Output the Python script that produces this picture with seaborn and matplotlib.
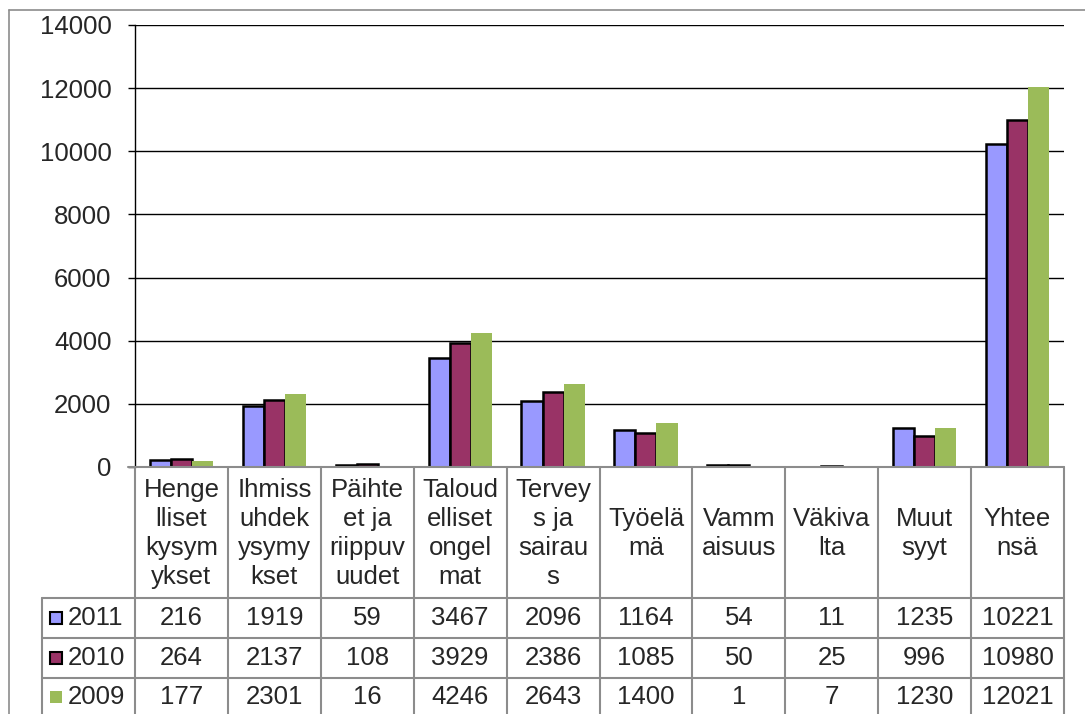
"""Yhteydenotot aiheittain 2009-2011, pylväät ja datataulukko"""

import numpy as np
import pandas as pd
import matplotlib
matplotlib.use('Agg')
import matplotlib.pyplot as plt
import seaborn as sns

# Data
categories = ['Hengelliset kysymykset', 'Ihmissuhdekysymykset', 'Päihteet ja riippuvuudet',
              'Taloudelliset ongelmat', 'Terveys ja sairaus', 'Työelämä', 'Vammaisuus',
              'Väkivalta', 'Muut syyt', 'Yhteensä']
header_labels = ['Henge\nlliset\nkysym\nykset', 'Ihmiss\nuhdek\nysymy\nkset', 'Päihte\net ja\nriippuv\nuudet',
                 'Taloud\nelliset\nongel\nmat', 'Tervey\ns ja\nsairau\ns', 'Työelä\nmä', 'Vamm\naisuus',
                 'Väkiva\nlta', 'Muut\nsyyt', 'Yhtee\nnsä']
years = ['2011', '2010', '2009']
values_2011 = [216, 1919, 59, 3467, 2096, 1164, 54, 11, 1235, 10221]
values_2010 = [264, 2137, 108, 3929, 2386, 1085, 50, 25, 996, 10980]
values_2009 = [177, 2301, 16, 4246, 2643, 1400, 1, 7, 1230, 12021]
y_ticks = [0, 2000, 4000, 6000, 8000, 10000, 12000, 14000]

colors = {'2011': '#9999FF', '2010': '#993366', '2009': '#9BBB59'}

series = {'2011': values_2011, '2010': values_2010, '2009': values_2009}
df = pd.DataFrame([
    {'kategoria': c, 'vuosi': y, 'arvo': v}
    for y in years for c, v in zip(categories, series[y])
])

sns.set_style('white')
plt.rcParams['font.family'] = ['Liberation Sans', 'DejaVu Sans']
FS = 18.5

W, H = 1085, 714
fig = plt.figure(figsize=(W / 100, H / 100), dpi=100)

# plot area in pixels
left, right, top, bottom = 135, 1064, 25, 467
ax = fig.add_axes([left / W, (H - bottom) / H, (right - left) / W, (bottom - top) / H])

sns.barplot(data=df, x='kategoria', y='arvo', hue='vuosi', hue_order=years,
            order=categories, palette=colors, saturation=1, width=0.68,
            legend=False, ax=ax, zorder=3)

for cont, year in zip(ax.containers, years):
    for bar in cont:
        if year == '2009':
            bar.set_edgecolor('none')
        else:
            bar.set_edgecolor('black')
            bar.set_linewidth(1.8)

ax.set_xlim(-0.5, len(categories) - 0.5)
ax.set_ylim(0, 14000)
ax.set_yticks(y_ticks)
ax.set_yticklabels([str(t) for t in y_ticks], fontsize=FS)
ax.set_xticks([])
ax.set_xlabel('')
ax.set_ylabel('')
ax.yaxis.grid(True, color='black', linewidth=1)
ax.set_axisbelow(True)
ax.tick_params(axis='y', which='major', left=True, length=5, width=1, color='black', pad=12)
for side in ['top', 'right', 'bottom']:
    ax.spines[side].set_visible(False)
ax.spines['left'].set_color('black')
ax.spines['left'].set_linewidth(1)

# table overlay in pixel coordinates
tab = fig.add_axes([0, 0, 1, 1], zorder=5)
tab.set_xlim(0, W)
tab.set_ylim(H, 0)
tab.axis('off')
tab.patch.set_alpha(0)

grid_col = '#8c8c8c'
col_edges = np.linspace(left, right, len(categories) + 1)
row_edges = [bottom, 598, 638, 678, H + 5]
legend_left = 42

# chart outer border
tab.plot([9, 9], [10, H], color='#8c8c8c', lw=1.2)
tab.plot([9, W], [10, 10], color='#8c8c8c', lw=1.2)

# zero line / header top
tab.plot([left - 7, right], [bottom, bottom], color=grid_col, lw=1.5)
for x in col_edges:
    tab.plot([x, x], [bottom, H], color=grid_col, lw=1.5)
tab.plot([legend_left, legend_left], [row_edges[1], H], color=grid_col, lw=1.5)
for y in row_edges[1:4]:
    tab.plot([legend_left, right], [y, y], color=grid_col, lw=1.5)

centers = (col_edges[:-1] + col_edges[1:]) / 2
for cx, lab in zip(centers, header_labels):
    tab.text(cx, (row_edges[0] + row_edges[1]) / 2 + 1, lab, ha='center', va='center',
             fontsize=FS, linespacing=1.28)

for r, year in enumerate(years):
    cy = (row_edges[r + 1] + row_edges[r + 2]) / 2 if r < 2 else 697
    for cx, v in zip(centers, series[year]):
        tab.text(cx, cy, str(v), ha='center', va='center', fontsize=FS)
    # legend key
    ec = 'none' if year == '2009' else 'black'
    tab.add_patch(plt.Rectangle((50, cy - 6), 12, 12, facecolor=colors[year],
                                edgecolor=ec, lw=1.5))
    tab.text(68, cy, year, ha='left', va='center', fontsize=FS)

fig.savefig('out.png', dpi=100)
